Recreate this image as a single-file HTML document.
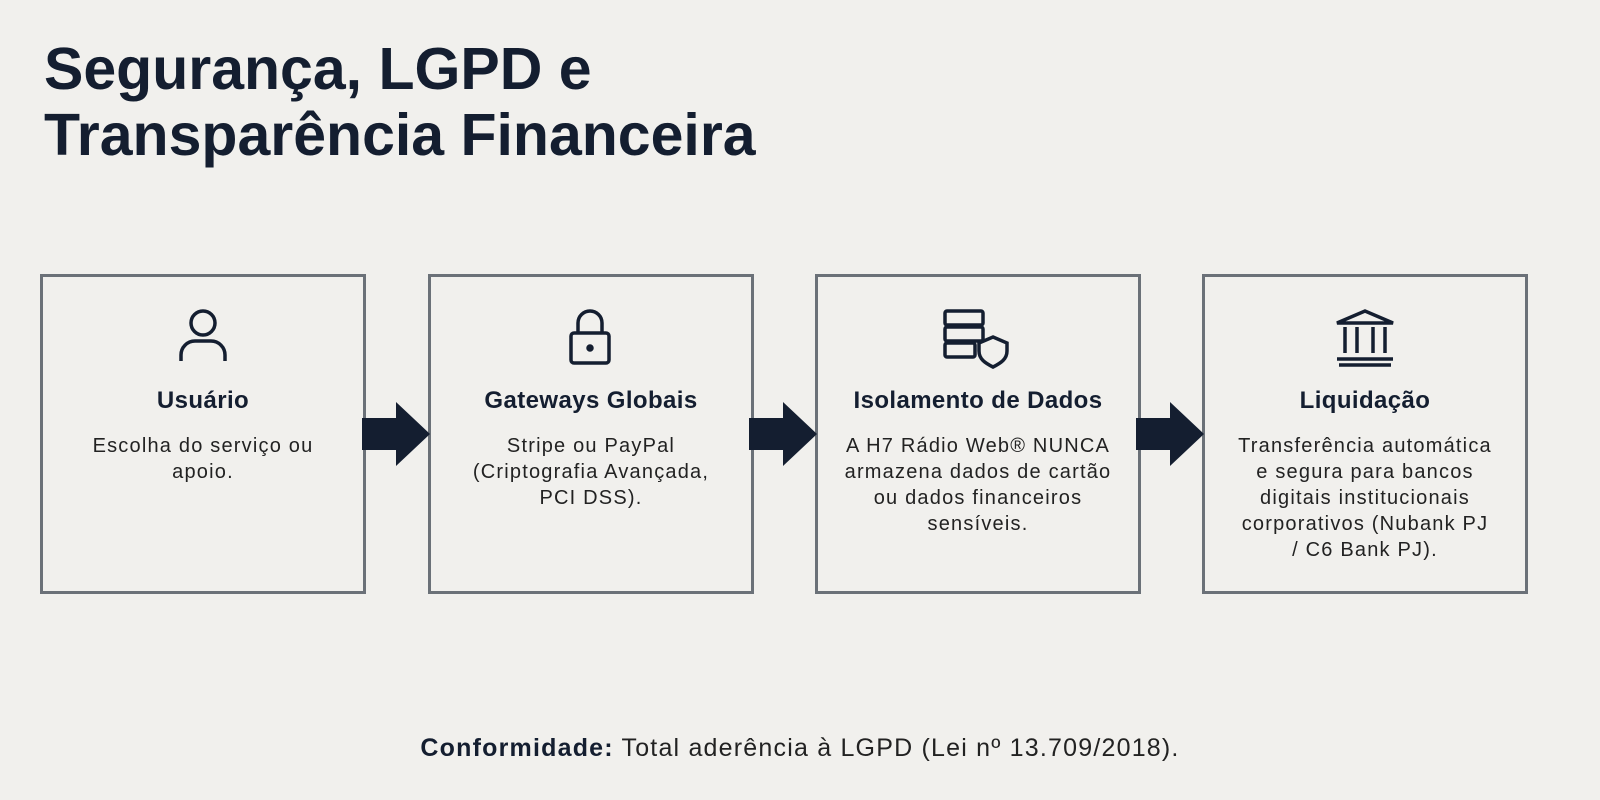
<!DOCTYPE html>
<html><head><meta charset="utf-8"><style>
body{margin:0;width:1600px;height:800px;background:#f1f0ed;font-family:"Liberation Sans",sans-serif;color:#141e30;position:relative;overflow:hidden}
h1{position:absolute;left:44px;top:36px;margin:0;font-size:59px;line-height:66px;font-weight:bold;letter-spacing:0px}
.box{position:absolute;top:274px;width:320px;height:314px;border:3px solid #6b7178;text-align:center}
.box svg{position:absolute;left:50%;top:28px;transform:translateX(-50%)}
.t{position:absolute;top:110px;left:0;right:0;font-weight:bold;font-size:24px;letter-spacing:0.4px}
.d{position:absolute;top:156px;left:4px;right:4px;font-size:20px;line-height:26px;color:#222;letter-spacing:1.2px}
.arr{position:absolute;top:402px}
.foot{position:absolute;top:734px;left:0;width:1600px;text-align:center;font-size:25px;color:#222;letter-spacing:1.2px}
</style></head><body>
<h1>Segurança, LGPD e<br>Transparência Financeira</h1>

<div class="box" style="left:40px">
<svg width="60" height="64" viewBox="0 0 60 64" fill="none" stroke="#141e30" stroke-width="3.5"><circle cx="30" cy="18" r="12"/><path d="M8 56v-6a14 14 0 0 1 14-14h16a14 14 0 0 1 14 14v6"/></svg>
<div class="t">Usuário</div><div class="d">Escolha do serviço ou<br>apoio.</div></div>

<div class="box" style="left:428px">
<svg width="60" height="64" viewBox="0 0 60 64" fill="none" stroke="#141e30" stroke-width="3.5"><rect x="10" y="28" width="38" height="30" rx="3"/><path d="M17 28v-10a12 12 0 0 1 24 0v10"/><circle cx="29" cy="43" r="2" fill="#141e30"/></svg>
<div class="t">Gateways Globais</div><div class="d">Stripe ou PayPal<br>(Criptografia Avançada,<br>PCI DSS).</div></div>

<div class="box" style="left:815px">
<svg width="74" height="64" viewBox="0 0 74 64" fill="none" stroke="#141e30" stroke-width="3.5"><rect x="4" y="6" width="38" height="14" rx="2"/><rect x="4" y="22" width="38" height="14" rx="2"/><rect x="4" y="38" width="30" height="14" rx="2"/><path d="M52 32l14 6v8c0 8-6 12-14 16c-8-4-14-8-14-16v-8z" fill="#f1f0ed"/></svg>
<div class="t">Isolamento de Dados</div><div class="d">A H7 Rádio Web® NUNCA<br>armazena dados de cartão<br>ou dados financeiros<br>sensíveis.</div></div>

<div class="box" style="left:1202px">
<svg width="64" height="64" viewBox="0 0 64 64" fill="none" stroke="#141e30" stroke-width="3.5"><path d="M4 18L32 6l28 12z"/><path d="M12 22v26M24 22v26M40 22v26M52 22v26M4 54h56M6 60h52"/></svg>
<div class="t">Liquidação</div><div class="d">Transferência automática<br>e segura para bancos<br>digitais institucionais<br>corporativos (Nubank PJ<br>/ C6 Bank PJ).</div></div>

<svg class="arr" style="left:362px" width="70" height="64"><path d="M0 16h34V0l34 32-34 32V48H0z" fill="#141e30"/></svg>
<svg class="arr" style="left:749px" width="70" height="64"><path d="M0 16h34V0l34 32-34 32V48H0z" fill="#141e30"/></svg>
<svg class="arr" style="left:1136px" width="70" height="64"><path d="M0 16h34V0l34 32-34 32V48H0z" fill="#141e30"/></svg>

<div class="foot"><b style="color:#141e30">Conformidade:</b> Total aderência à LGPD (Lei nº 13.709/2018).</div>
</body></html>
